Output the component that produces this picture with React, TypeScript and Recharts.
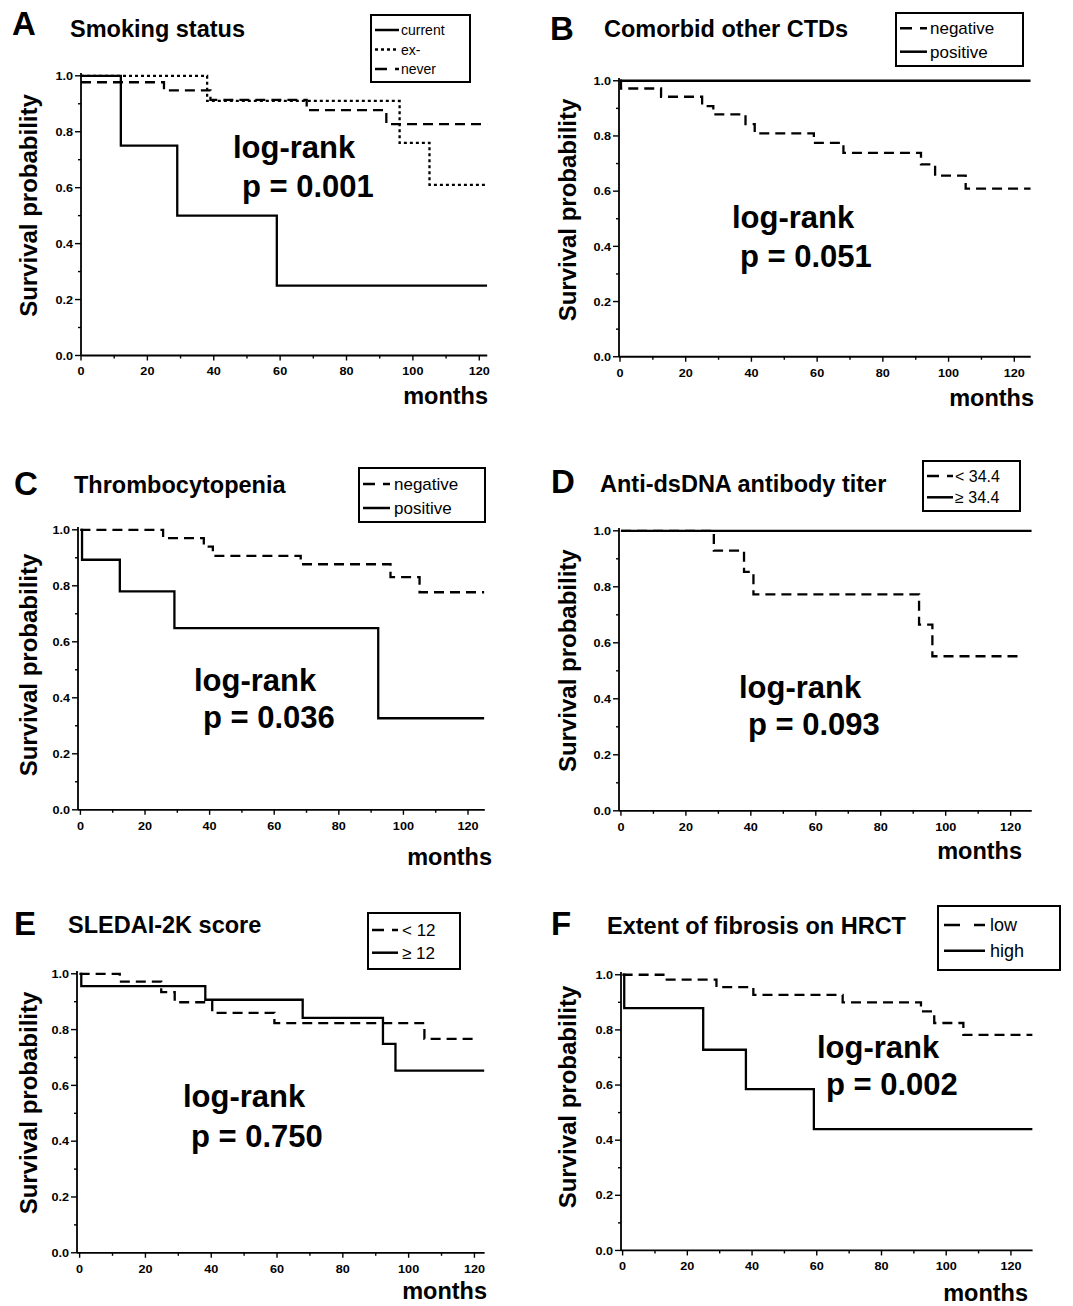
import React from 'react';
import { LineChart, Line, XAxis, YAxis } from 'recharts';

const FONT = '"Liberation Sans", Arial, Helvetica, sans-serif';

// Kaplan-Meier curves: [months, survival probability]
const A_CURRENT = [[0, 1], [12, 0.75], [29, 0.5], [59, 0.25], [122.4, 0.25]];
const A_EX = [[0, 1], [38, 0.91], [96, 0.76], [105, 0.61], [122.4, 0.61]];
const A_NEVER = [[0, 0.977], [25, 0.948], [39, 0.914], [68, 0.877], [92, 0.827], [122.4, 0.827]];

const B_NEG = [[0, 1], [0.3, 0.972], [12.5, 0.942], [25, 0.908], [28.4, 0.878], [38.2, 0.843], [41, 0.809], [59, 0.775], [68, 0.739], [91.6, 0.697], [95.9, 0.656], [105.2, 0.609], [125, 0.609]];
const B_POS = [[0, 1], [125, 1]];

const C_NEG = [[0, 1], [25.6, 0.97], [38.2, 0.94], [41, 0.907], [68.2, 0.877], [96, 0.831], [105, 0.777], [125, 0.777]];
const C_POS = [[0, 1], [0.5, 0.893], [12.2, 0.78], [29.1, 0.649], [92.2, 0.327], [125, 0.327]];

const D_LOW = [[0, 1], [28.6, 0.929], [37.9, 0.853], [40.8, 0.773], [91.8, 0.665], [95.9, 0.552], [123.4, 0.552]];
const D_HIGH = [[0, 1], [126.5, 1]];

const E_LOW = [[0, 1], [12.2, 0.972], [24.8, 0.934], [28.9, 0.898], [40.3, 0.86], [59.2, 0.823], [104.8, 0.767], [120.7, 0.767]];
const E_HIGH = [[0, 1], [0.5, 0.956], [38.2, 0.907], [67.8, 0.842], [92.2, 0.749], [96, 0.653], [123, 0.653]];

const F_LOW = [[0, 1], [12.6, 0.982], [29, 0.955], [40.4, 0.927], [68, 0.9], [92.2, 0.867], [96.3, 0.825], [105.3, 0.782], [126.7, 0.782]];
const F_HIGH = [[0, 1], [0.5, 0.879], [24.9, 0.728], [38.1, 0.585], [59.1, 0.44], [126.7, 0.44]];

const Y_TICKS = [0, 0.1, 0.2, 0.3, 0.4, 0.5, 0.6, 0.7, 0.8, 0.9, 1.0];
const X_TICKS = [0, 10, 20, 30, 40, 50, 60, 70, 80, 90, 100, 110, 120];

const SOLID = undefined;
const DASH = '10 6';
const DOT = '3 3';

const toPts = (arr: number[][]) => arr.map(([t, s]) => ({ t, s }));

// tick labels in the figure are a slightly wide bold face
const TICK_FS = 11.5;
const TICK_SX = 1.1;

function YTick({ x, y, payload }: any) {
  const v = payload.value;
  const major = Math.round(v * 10) % 2 === 0;
  return (
    <g>
      <line x1={x} x2={x - (major ? 6 : 3)} y1={y} y2={y} stroke="#000" strokeWidth={1.4} />
      {major && (
        <text
          transform={`translate(${x - 8},${y}) scale(${TICK_SX},1)`}
          dy="0.36em"
          textAnchor="end"
          fontSize={TICK_FS}
          fontWeight="bold"
          fontFamily={FONT}
          fill="#000"
        >
          {v.toFixed(1)}
        </text>
      )}
    </g>
  );
}

function XTick({ x, y, payload }: any) {
  const v = payload.value;
  const major = v % 20 === 0;
  return (
    <g>
      <line x1={x} x2={x} y1={y} y2={y + (major ? 5 : 3)} stroke="#000" strokeWidth={1.4} />
      {major && (
        <text
          transform={`translate(${x},${y + 20}) scale(${TICK_SX},1)`}
          textAnchor="middle"
          fontSize={TICK_FS}
          fontWeight="bold"
          fontFamily={FONT}
          fill="#000"
        >
          {v}
        </text>
      )}
    </g>
  );
}

type Series = { name: string; pts: number[][]; dash?: string };

type Geo = { x0: number; k: number; xmin: number; xmax: number; y0: number; y1: number };

// chart margins around the plot box (axes are 1px wide so they still render)
const ML = 40;
const MT = 4;
const MR = 4;
const MB = 30;
const AX = 1;

function KMChart({ geo, series }: { geo: Geo; series: Series[] }) {
  const yTop = 1.01;
  const plotLeft = geo.x0 + geo.xmin * geo.k;
  const plotRight = geo.x0 + geo.xmax * geo.k;
  const plotTop = geo.y0 - yTop * (geo.y0 - geo.y1);
  const w = plotRight - plotLeft;
  const h = geo.y0 - plotTop;
  return (
    <div style={{ position: 'absolute', left: plotLeft - ML - AX, top: plotTop - MT }}>
      <LineChart width={w + ML + AX + MR} height={h + MT + MB + AX} margin={{ top: MT, right: MR, bottom: MB, left: ML }}>
        <XAxis
          type="number"
          dataKey="t"
          domain={[geo.xmin, geo.xmax]}
          ticks={X_TICKS}
          interval={0}
          allowDataOverflow
          height={AX}
          tickSize={0}
          tickMargin={0}
          tickLine={false}
          axisLine={{ stroke: '#000', strokeWidth: 1.8 }}
          tick={<XTick />}
        />
        <YAxis
          type="number"
          dataKey="s"
          domain={[0, yTop]}
          ticks={Y_TICKS}
          interval={0}
          allowDataOverflow
          width={AX}
          tickSize={0}
          tickMargin={0}
          tickLine={false}
          axisLine={{ stroke: '#000', strokeWidth: 1.8 }}
          tick={<YTick />}
        />
        {series.map((s) => (
          <Line
            key={s.name}
            data={toPts(s.pts)}
            dataKey="s"
            type="stepAfter"
            stroke="#000"
            strokeWidth={2.3}
            strokeDasharray={s.dash}
            dot={false}
            activeDot={false}
            isAnimationActive={false}
          />
        ))}
      </LineChart>
    </div>
  );
}

type Labels = {
  letter: string;
  letterAt: [number, number];
  title: string;
  titleAt: [number, number];
  logAt: [number, number];
  p: string;
  pAt: [number, number];
  yLabelAt: [number, number];
  monthsAt: [number, number];
  box: [number, number, number, number];
  rows: number[];
  lineX: [number, number];
  textX: number;
  legendFont: number;
};

function PanelText({ lab, series }: { lab: Labels; series: Series[] }) {
  const [bx, by, bw, bh] = lab.box;
  return (
    <g fontFamily={FONT} fill="#000">
      <text x={lab.letterAt[0]} y={lab.letterAt[1]} fontSize={33} fontWeight="bold">{lab.letter}</text>
      <text x={lab.titleAt[0]} y={lab.titleAt[1]} fontSize={23.5} fontWeight="bold">{lab.title}</text>
      <text x={lab.logAt[0]} y={lab.logAt[1]} fontSize={31} fontWeight="bold">log-rank</text>
      <text x={lab.pAt[0]} y={lab.pAt[1]} fontSize={31} fontWeight="bold">{lab.p}</text>
      <text
        transform={`translate(${lab.yLabelAt[0]},${lab.yLabelAt[1]}) rotate(-90)`}
        textAnchor="middle"
        fontSize={24}
        fontWeight="bold"
      >
        Survival probability
      </text>
      <text x={lab.monthsAt[0]} y={lab.monthsAt[1]} textAnchor="end" fontSize={23.5} fontWeight="bold">months</text>
      <rect x={bx} y={by} width={bw} height={bh} fill="#fff" stroke="#000" strokeWidth={2} />
      {series.map((s, i) => (
        <g key={s.name}>
          <line
            x1={lab.lineX[0]}
            x2={lab.lineX[1]}
            y1={lab.rows[i]}
            y2={lab.rows[i]}
            stroke="#000"
            strokeWidth={2.5}
            strokeDasharray={s.dash === DASH ? (lab.lineX[1] - lab.lineX[0] > 35 ? '16 14' : '12 8') : s.dash}
          />
          <text x={lab.textX} y={lab.rows[i]} dy="0.36em" fontSize={lab.legendFont}>{s.name}</text>
        </g>
      ))}
    </g>
  );
}

const PANELS: { geo: Geo; lab: Labels; series: Series[] }[] = [
  {
    geo: { x0: 80.7, k: 3.319, xmin: 0, xmax: 122.4, y0: 355.7, y1: 76 },
    series: [
      { name: 'current', pts: A_CURRENT, dash: SOLID },
      { name: 'ex-', pts: A_EX, dash: DOT },
      { name: 'never', pts: A_NEVER, dash: DASH },
    ],
    lab: {
      letter: 'A', letterAt: [12, 35], title: 'Smoking status', titleAt: [70, 36.7],
      logAt: [233, 158.3], p: 'p = 0.001', pAt: [242, 196.7], yLabelAt: [37, 205.5], monthsAt: [488, 404],
      box: [371, 15, 99, 67], rows: [30, 49.5, 69], lineX: [375, 399], textX: 401, legendFont: 14,
    },
  },
  {
    geo: { x0: 620, k: 3.286, xmin: -0.3, xmax: 125, y0: 356.7, y1: 80.7 },
    series: [
      { name: 'negative', pts: B_NEG, dash: DASH },
      { name: 'positive', pts: B_POS, dash: SOLID },
    ],
    lab: {
      letter: 'B', letterAt: [550, 40], title: 'Comorbid other CTDs', titleAt: [604, 37.3],
      logAt: [732, 228.3], p: 'p = 0.051', pAt: [740, 266.7], yLabelAt: [576, 210], monthsAt: [1034, 406],
      box: [896, 13, 127, 53], rows: [28.3, 51.7], lineX: [900, 927], textX: 930, legendFont: 17,
    },
  },
  {
    geo: { x0: 80.7, k: 3.23, xmin: -0.75, xmax: 125.2, y0: 810, y1: 530 },
    series: [
      { name: 'negative', pts: C_NEG, dash: DASH },
      { name: 'positive', pts: C_POS, dash: SOLID },
    ],
    lab: {
      letter: 'C', letterAt: [14, 495], title: 'Thrombocytopenia', titleAt: [74, 493.3],
      logAt: [194, 690.7], p: 'p = 0.036', pAt: [203, 728.3], yLabelAt: [37, 665], monthsAt: [492, 865],
      box: [359, 468, 126, 54], rows: [484, 508], lineX: [363, 390], textX: 394, legendFont: 17,
    },
  },
  {
    geo: { x0: 621, k: 3.2475, xmin: -0.6, xmax: 126.5, y0: 810.7, y1: 530.7 },
    series: [
      { name: '< 34.4', pts: D_LOW, dash: DASH },
      { name: '≥ 34.4', pts: D_HIGH, dash: SOLID },
    ],
    lab: {
      letter: 'D', letterAt: [551, 493], title: 'Anti-dsDNA antibody titer', titleAt: [600, 491.7],
      logAt: [739, 698.3], p: 'p = 0.093', pAt: [748, 735], yLabelAt: [576, 660.7], monthsAt: [1022, 859.3],
      box: [923, 461, 97, 50], rows: [476, 497.3], lineX: [927, 953], textX: 955, legendFont: 16,
    },
  },
  {
    geo: { x0: 80, k: 3.29, xmin: -0.8, xmax: 123.1, y0: 1252.3, y1: 973.3 },
    series: [
      { name: '< 12', pts: E_LOW, dash: DASH },
      { name: '≥ 12', pts: E_HIGH, dash: SOLID },
    ],
    lab: {
      letter: 'E', letterAt: [14, 935], title: 'SLEDAI-2K score', titleAt: [68, 933.3],
      logAt: [183, 1106.7], p: 'p = 0.750', pAt: [191, 1146.7], yLabelAt: [37, 1103], monthsAt: [487, 1299],
      box: [368, 913, 92, 56], rows: [930, 952.7], lineX: [372, 398], textX: 402, legendFont: 17,
    },
  },
  {
    geo: { x0: 622.7, k: 3.236, xmin: -0.5, xmax: 126.7, y0: 1250.7, y1: 975 },
    series: [
      { name: 'low', pts: F_LOW, dash: DASH },
      { name: 'high', pts: F_HIGH, dash: SOLID },
    ],
    lab: {
      letter: 'F', letterAt: [551, 935], title: 'Extent of fibrosis on HRCT', titleAt: [607, 934],
      logAt: [817, 1058.3], p: 'p = 0.002', pAt: [826, 1095], yLabelAt: [576, 1097], monthsAt: [1028, 1300.7],
      box: [938, 906, 122, 64], rows: [925, 950.7], lineX: [944, 985], textX: 990, legendFont: 18,
    },
  },
];

export default function App() {
  return (
    <div style={{ position: 'absolute', left: 0, top: 0, width: 1073, height: 1306, background: '#fff', overflow: 'hidden' }}>
      {PANELS.map((p) => (
        <KMChart key={p.lab.letter} geo={p.geo} series={p.series} />
      ))}
      <svg width={1073} height={1306} style={{ position: 'absolute', left: 0, top: 0, pointerEvents: 'none' }}>
        {PANELS.map((p) => (
          <PanelText key={p.lab.letter} lab={p.lab} series={p.series} />
        ))}
      </svg>
    </div>
  );
}
